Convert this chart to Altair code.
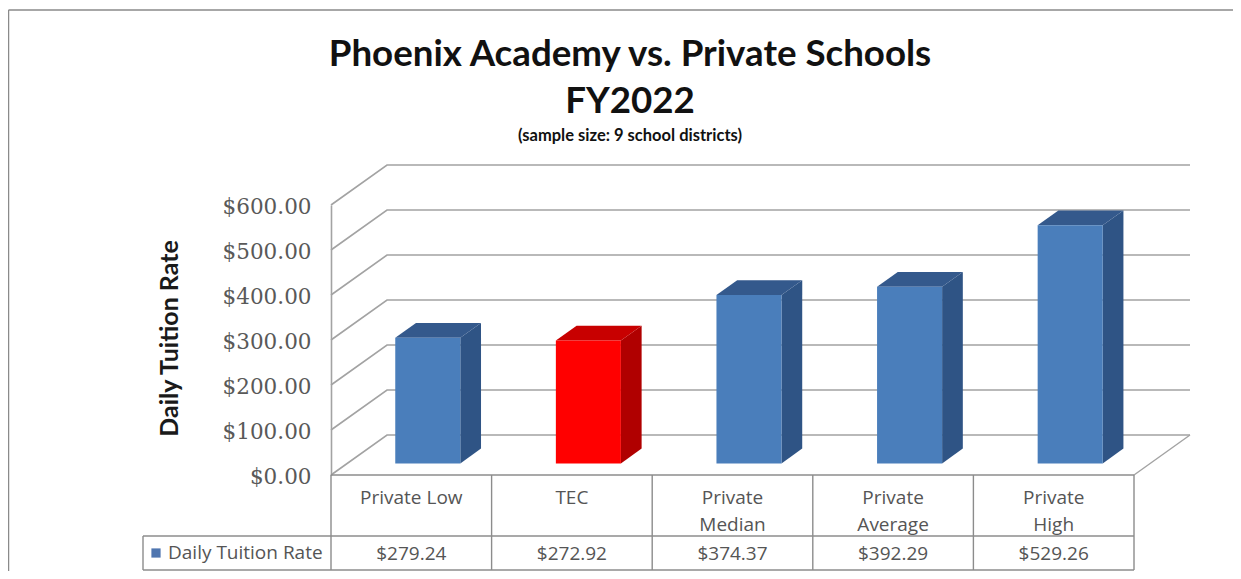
import altair as alt
import pandas as pd

categories = ["Private Low", "TEC", "Private Median", "Private Average", "Private High"]
label_lines = [["Private Low"], ["TEC"], ["Private", "Median"], ["Private", "Average"], ["Private", "High"]]
values = [279.24, 272.92, 374.37, 392.29, 529.26]
value_labels = ["$279.24", "$272.92", "$374.37", "$392.29", "$529.26"]
front_colors = ["#4a7ebb", "#ff0000", "#4a7ebb", "#4a7ebb", "#4a7ebb"]
side_colors = ["#2f5485", "#b00000", "#2f5485", "#2f5485", "#2f5485"]
top_colors = ["#34598c", "#c80000", "#34598c", "#34598c", "#34598c"]
ticks = [0, 100, 200, 300, 400, 500, 600]

PX_X0, PX_Y0 = 331.0, 475.0
CAT_W, PX_PER_DOLLAR = 160.6, 0.45
DEPTH_X, DEPTH_Y = 56.0, 40.0
W, H = 859, 270


def ux(px):
    return (px - PX_X0) / CAT_W


def vy(py):
    return (PX_Y0 - py) / PX_PER_DOLLAR


def gx(u, f=0.0):
    return u + f * DEPTH_X / CAT_W


def gy(v, f=0.0):
    return v + f * DEPTH_Y / PX_PER_DOLLAR


xs = alt.Scale(domain=[0, W / CAT_W], range=[0, W], nice=False, zero=False)
ys = alt.Scale(domain=[0, 600], range=[H, 0], nice=False, zero=False)
y_axis = alt.Axis(
    values=ticks, format="$,.2f", title="Daily Tuition Rate",
    titleFont="Lato", titleFontSize=25, titleFontWeight="bold", titleColor="#1a1a1a",
    titleX=-149, titleY=133, titleAngle=270,
    labelFont="DejaVu Serif", labelFontSize=21.5, labelColor="#595959", labelPadding=20, labelOffset=2,
    ticks=False, domain=True, domainColor="#a3a3a3", domainWidth=1.6, grid=False)
X = alt.X("x:Q", scale=xs, axis=None)
Y = alt.Y("y:Q", scale=ys, axis=y_axis, title="Daily Tuition Rate")

BAR_L, BAR_R = 0.299, 0.704  # bar footprint within a category
F0, F1 = 0.29, 0.66  # bar footprint in depth

# walls / gridlines
grid_rows = []
for v in ticks:
    for i, (u, f) in enumerate([(0, 0), (0, 1), (5, 1)]):
        grid_rows.append({"x": gx(u, f), "y": gy(v, f), "g": str(v), "o": i})
grid = alt.Chart(pd.DataFrame(grid_rows)).mark_line(color="#a3a3a3", strokeWidth=1.6).encode(
    x=X, y=Y, detail="g:N", order="o:Q")

floor_edge = alt.Chart(pd.DataFrame([
    {"x": gx(5, 0), "y": gy(0, 0), "o": 0}, {"x": gx(5, 1), "y": gy(0, 1), "o": 1}
])).mark_line(color="#a3a3a3", strokeWidth=1.4).encode(x=X, y=Y, order="o:Q")

# bars
front_df = pd.DataFrame([
    {"x": gx(i + BAR_L, F0), "x2": gx(i + BAR_R, F0), "y": gy(v, F0), "y2": gy(0, F0), "c": c}
    for i, (v, c) in enumerate(zip(values, front_colors))
])
front = alt.Chart(front_df).mark_rect().encode(
    x=X, x2="x2:Q", y=Y, y2="y2:Q", color=alt.Color("c:N", scale=None))

side_rows, top_rows = [], []
for i, (v, sc, tc) in enumerate(zip(values, side_colors, top_colors)):
    for f in (F0, F1):
        side_rows.append({"x": gx(i + BAR_R, f), "y": gy(v, f), "y2": gy(0, f), "c": sc, "k": i})
        top_rows.append({"x": gx(i + BAR_L, f), "x2": gx(i + BAR_R, f), "y": gy(v, f), "c": tc, "k": i})
side = alt.Chart(pd.DataFrame(side_rows)).mark_area(orient="vertical").encode(
    x=X, y=Y, y2="y2:Q", detail="k:N", color=alt.Color("c:N", scale=None))
top = alt.Chart(pd.DataFrame(top_rows)).mark_area(orient="horizontal").encode(
    y=Y, x=X, x2="x2:Q", detail="k:N", color=alt.Color("c:N", scale=None))

# table lines
TBL_L, C5 = 143, 1134
ROW0, ROW1, ROW2 = 475, 536, 570
cols = [gx(i) for i in range(6)]
seg = []
seg.append((ux(331), vy(ROW0), ux(C5), vy(ROW0)))
seg.append((ux(TBL_L), vy(ROW1), ux(C5), vy(ROW1)))
seg.append((ux(TBL_L), vy(ROW2), ux(C5), vy(ROW2)))
seg.append((ux(TBL_L), vy(ROW1), ux(TBL_L), vy(ROW2)))
for c in cols:
    seg.append((c, vy(ROW0), c, vy(ROW2)))
seg_df = pd.DataFrame(seg, columns=["x", "y", "x2", "y2"])
table = alt.Chart(seg_df).mark_rule(color="#8c8c8c", strokeWidth=1.4).encode(x=X, y=Y, x2="x2:Q", y2="y2:Q")

# outer frame of the picture
frame_df = pd.DataFrame([
    (ux(8.5), vy(10), ux(1241), vy(10)),
    (ux(8.5), vy(10), ux(8.5), vy(579)),
], columns=["x", "y", "x2", "y2"])
frame = alt.Chart(frame_df).mark_rule(color="#8a8a8a", strokeWidth=1.5).encode(x=X, y=Y, x2="x2:Q", y2="y2:Q")

# table text
txt_rows = []
for i, lines in enumerate(label_lines):
    for j, t in enumerate(lines):
        txt_rows.append({"x": i + 0.5, "y": vy(498 + 27 * j), "t": t})
for i, t in enumerate(value_labels):
    txt_rows.append({"x": i + 0.5, "y": vy(554), "t": t})
cell_text = alt.Chart(pd.DataFrame(txt_rows)).mark_text(
    font="Open Sans", fontSize=19, color="#555555", align="center", baseline="middle"
).encode(x=X, y=Y, text="t:N")

legend_text = alt.Chart(pd.DataFrame([{"x": ux(168), "y": vy(553), "t": "Daily Tuition Rate"}])).mark_text(
    font="Open Sans", fontSize=19, color="#555555", align="left", baseline="middle"
).encode(x=X, y=Y, text="t:N")
legend_sw = alt.Chart(pd.DataFrame([{"x": ux(156), "y": vy(553)}])).mark_square(
    size=85, color="#4f76b0", opacity=1).encode(x=X, y=Y)

# titles
title_rows = pd.DataFrame([
    {"x": ux(630), "y": vy(55), "t": "Phoenix Academy vs. Private Schools", "s": 36.7},
    {"x": ux(630), "y": vy(101.5), "t": "FY2022", "s": 36.7},
    {"x": ux(630), "y": vy(136), "t": "(sample size: 9 school districts)", "s": 16.5},
])
titles = alt.Chart(title_rows).mark_text(
    font="Lato", fontWeight="bold", color="#111111", align="center", baseline="middle"
).encode(x=X, y=Y, text="t:N", size=alt.Size("s:Q", scale=None, legend=None))

chart = alt.layer(
    frame, grid, floor_edge, side, top, front, table, cell_text, legend_sw, legend_text, titles
).resolve_scale(x="shared", y="shared").properties(
    width=W, height=H,
    padding={"left": 323, "top": 197, "right": 43, "bottom": 96},
    autosize=alt.AutoSizeParams(type="none"),
    background="white",
).configure_view(stroke=None)

chart.save("out.html", embed_options={"renderer": "svg", "actions": False})
